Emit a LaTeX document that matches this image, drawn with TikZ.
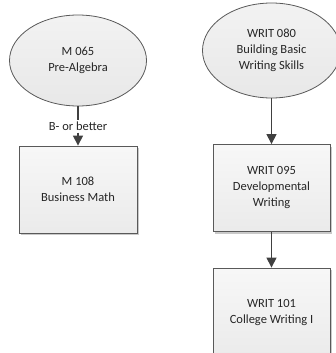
\documentclass[tikz,border=0pt]{standalone}
\usepackage{fontspec}
\setmainfont{Carlito}
\usetikzlibrary{arrows.meta,shapes.geometric,shadows}
\begin{document}
\begin{tikzpicture}[x=1pt,y=-1pt,
  every node/.style={font=\fontsize{12.5}{16}\selectfont, align=center, text=black!85},
  course/.style={draw=black!65, line width=0.8pt, ellipse, top color=white!95!black, bottom color=white!91!black, inner sep=0pt},
  coursebox/.style={draw=black!65, line width=0.8pt, rectangle, top color=white!97!black, bottom color=white!92!black,
    drop shadow={shadow xshift=2pt, shadow yshift=-2pt, fill=black!30, opacity=0.7}, inner sep=0pt},
  plainline/.style={draw=black!75, line width=1.2pt},
  link/.style={plainline, -{Triangle[width=10pt,length=10pt]}}
]
\useasboundingbox (0,0) rectangle (336,353);
\begin{scope}
\clip (0,0) rectangle (336,353);
\node[course, minimum width=137pt, minimum height=91pt] (m065) at (78,60.5) {M 065\\Pre-Algebra};
\node[coursebox, minimum width=118pt, minimum height=87pt] (m108) at (78,189.5) {M 108\\Business Math};
\node[course, minimum width=138pt, minimum height=95pt] (w080) at (271.5,50.5) {WRIT 080\\Building Basic\\Writing Skills};
\node[coursebox, minimum width=117pt, minimum height=87pt] (w095) at (271.5,188) {WRIT 095\\Developmental\\Writing};
\node[coursebox, minimum width=117pt, minimum height=90pt] (w101) at (271.5,313) {WRIT 101\\College Writing I};
\end{scope}
\node[inner sep=1.5pt] (lbl) at (78,126.5) {B- or better};
\draw[plainline] (m065.south) -- (lbl.north);
\draw[link] (lbl.south) -- (m108.north);
\draw[link] (w080.south) -- (w095.north);
\draw[link] (w095.south) -- (w101.north);
\end{tikzpicture}
\end{document}
